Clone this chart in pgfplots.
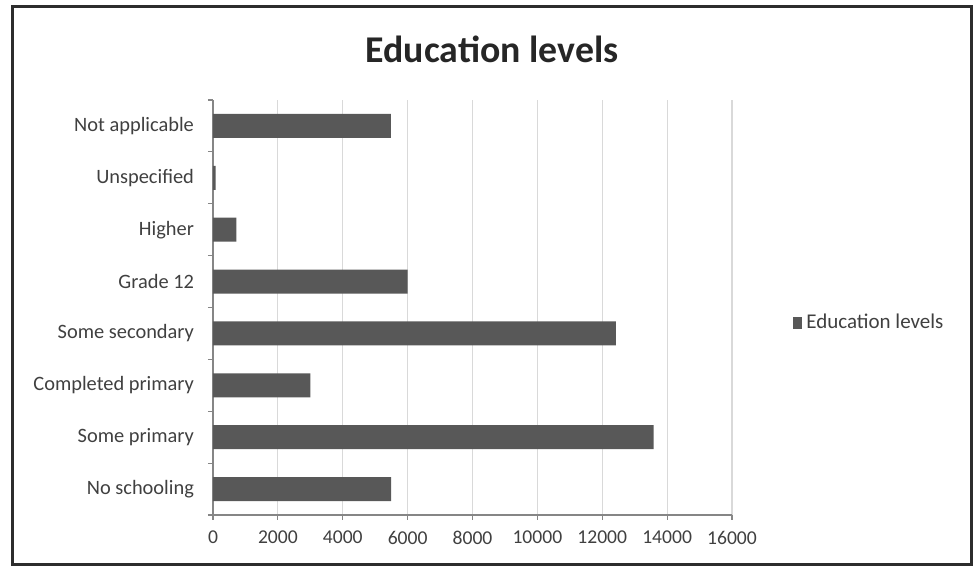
\documentclass[border=0pt]{standalone}
\usepackage{fontspec}
\setmainfont{Carlito}
\usepackage{pgfplots}
\pgfplotsset{compat=1.18}
\definecolor{barfill}{RGB}{88,88,88}
\definecolor{gridcol}{RGB}{217,217,217}
\definecolor{axiscol}{RGB}{134,134,134}
\definecolor{framecol}{RGB}{45,45,45}
\definecolor{labelcol}{RGB}{64,64,64}
\begin{document}
\begin{tikzpicture}[x=1pt,y=1pt]
  % page area and chart frame
  \path (0,0) rectangle (488,286);
  \draw[line width=1.5pt, color=framecol] (6,3.5) rectangle (485.5,282.5);
  \node[font=\bfseries\fontsize{18.9}{22}\selectfont, text=black!85] at (246,261.5) {Education levels};
  \begin{axis}[
    at={(106.5pt,28.5pt)}, anchor=south west,
    scale only axis, width=259.5pt, height=207.5pt,
    xbar, bar width=12pt,
    xmin=0, xmax=16000, ymin=-0.5, ymax=7.5,
    axis x line*=bottom, axis y line*=left,
    axis line style={color=axiscol, line width=0.6pt, -},
    xtick={0,2000,...,16000},
    xmajorgrids, major grid style={color=gridcol, line width=0.6pt},
    ytick={-0.5,0.5,...,7.5}, yticklabels={},
    extra y ticks={0,1,2,3,4,5,6,7},
    extra y tick labels={No schooling, Some primary, Completed primary, Some secondary, Grade 12, Higher, Unspecified, Not applicable},
    extra y tick style={major tick length=0pt, grid=none},
    tick align=outside, major tick length=2.5pt,
    tick style={color=axiscol, line width=0.6pt},
    xticklabel style={font=\fontsize{9.8}{11}\selectfont, text=labelcol, yshift=-2pt},
    yticklabel style={font=\fontsize{10.2}{12}\selectfont, text=labelcol, xshift=-6pt},
    /pgf/number format/assume math mode=true,
    /pgf/number format/1000 sep={},
    scaled x ticks=false,
    legend style={at={(1.1175,0.4627)}, anchor=west, draw=none, fill=none,
      font=\fontsize{10.5}{12}\selectfont, text=labelcol, inner sep=0pt},
    legend image code/.code={\fill[barfill] (0pt,-3.2pt) rectangle (4.5pt,3.2pt);},
  ]
    \addplot[fill=barfill, draw=none] coordinates {
      (5490,0) (13580,1) (3000,2) (12420,3) (6000,4) (720,5) (80,6) (5480,7)
    };
    \addlegendentry{Education levels}
  \end{axis}
\end{tikzpicture}
\end{document}
